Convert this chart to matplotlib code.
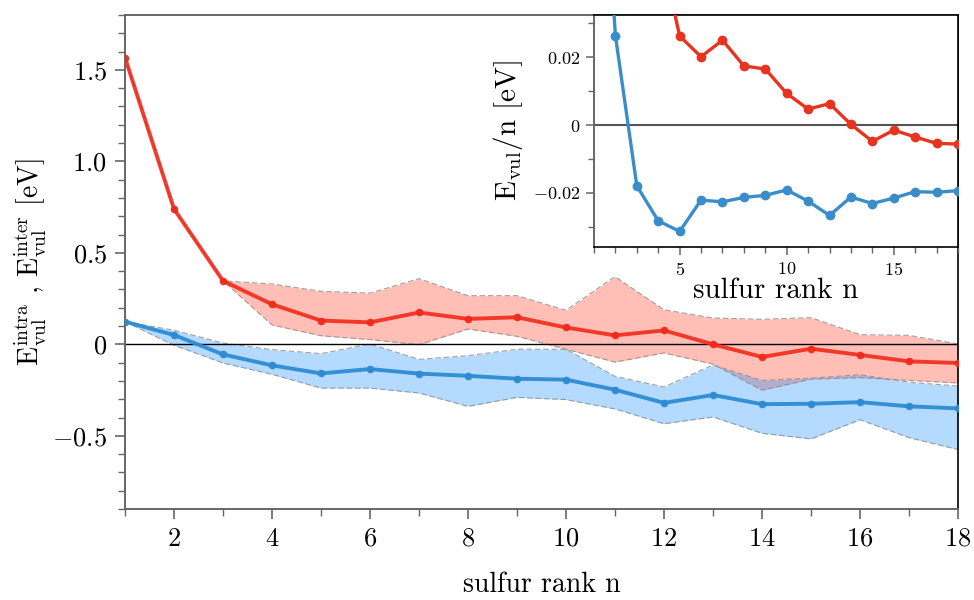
import matplotlib
matplotlib.use("Agg")
import matplotlib.pyplot as plt
from matplotlib.ticker import MultipleLocator, FixedLocator, FuncFormatter
import numpy as np

plt.rcParams['font.family'] = 'serif'
plt.rcParams['font.serif'] = ['cmr10']
plt.rcParams['mathtext.fontset'] = 'cm'
plt.rcParams['axes.unicode_minus'] = True

# ---------------- data ----------------
n = [1, 2, 3, 4, 5, 6, 7, 8, 9, 10, 11, 12, 13, 14, 15, 16, 17, 18]

e_red = [1.567, 0.740, 0.347, 0.219, 0.130, 0.120, 0.174, 0.139, 0.148, 0.092,
         0.049, 0.076, 0.000, -0.069, -0.024, -0.058, -0.093, -0.102]
e_red_upper = [1.567, 0.740, 0.347, 0.330, 0.290, 0.280, 0.359, 0.266, 0.266, 0.186,
               0.370, 0.189, 0.144, 0.137, 0.146, 0.053, 0.049, 0.002]
e_red_lower = [1.567, 0.740, 0.347, 0.106, 0.047, 0.026, -0.002, 0.084, 0.044, -0.027,
               -0.097, -0.047, -0.108, -0.251, -0.190, -0.182, -0.197, -0.211]

e_blue = [0.124, 0.051, -0.055, -0.115, -0.159, -0.135, -0.160, -0.172, -0.188, -0.193,
          -0.248, -0.320, -0.277, -0.327, -0.325, -0.316, -0.339, -0.350]
e_blue_upper = [0.124, 0.077, 0.007, -0.029, -0.051, 0.002, -0.082, -0.062, -0.027, -0.027,
                -0.175, -0.233, -0.113, -0.197, -0.185, -0.166, -0.207, -0.228]
e_blue_lower = [0.124, -0.005, -0.102, -0.164, -0.239, -0.239, -0.266, -0.339, -0.290, -0.302,
                -0.353, -0.434, -0.397, -0.486, -0.517, -0.412, -0.510, -0.575]

inset_red = [1.567, 0.370, 0.1157, 0.0548, 0.0262, 0.0201, 0.0250, 0.0174, 0.0165, 0.0093,
             0.0047, 0.0063, 0.0002, -0.0048, -0.0015, -0.0035, -0.0054, -0.0056]
inset_blue = [0.124, 0.0263, -0.0179, -0.0282, -0.0313, -0.0221, -0.0226, -0.0213, -0.0207, -0.0191,
              -0.0224, -0.0266, -0.0212, -0.0231, -0.0215, -0.0196, -0.0198, -0.0193]

main_yticks = [-0.5, 0.0, 0.5, 1.0, 1.5]
main_xticks = [2, 4, 6, 8, 10, 12, 14, 16, 18]
inset_yticks = [-0.02, 0.0, 0.02]
inset_xticks = [5, 10, 15]

# ---------------- style ----------------
RED = '#f02a1a'
BLUE = '#2d8bd3'
RED_FILL = '#ff2a10'
BLUE_FILL = '#1e90ff'
RED_IN = '#e8331f'
BLUE_IN = '#3a8dc9'
SPINE_GRAY = '#666666'


def fmt_main(v, pos):
    if abs(v) < 1e-9:
        return r'$0$'
    return r'$%.1f$' % v


def fmt_inset(v, pos):
    if abs(v) < 1e-9:
        return r'$0$'
    return r'$%.2f$' % v


fig = plt.figure(figsize=(9.74, 6.0), dpi=100)
ax = fig.add_axes([0.12834, 0.15167, 0.85524, 0.82333])

ax.fill_between(n, e_red_lower, e_red_upper, color=RED_FILL, alpha=0.3, lw=0, zorder=1)
ax.fill_between(n, e_blue_lower, e_blue_upper, color=BLUE_FILL, alpha=0.33, lw=0, zorder=1.1)
for arr in (e_red_upper, e_red_lower, e_blue_upper, e_blue_lower):
    ax.plot(n, arr, ls=(0, (5, 2.5)), color='#8a8a8a', lw=0.8, alpha=0.8, zorder=1.5)
ax.axhline(0, color='black', lw=1.0, zorder=2)
ax.plot(n, e_blue, color=BLUE, lw=2.8, marker='o', ms=4.5, zorder=3, alpha=0.95)
ax.plot(n, e_red, color=RED, lw=2.8, marker='o', ms=4.5, zorder=4, alpha=0.9)

ax.set_xlim(1, 18)
ax.set_ylim(-0.9, 1.8)
ax.xaxis.set_major_locator(FixedLocator(main_xticks))
ax.xaxis.set_minor_locator(MultipleLocator(1))
ax.yaxis.set_major_locator(FixedLocator(main_yticks))
ax.yaxis.set_minor_locator(MultipleLocator(0.1))
ax.yaxis.set_major_formatter(FuncFormatter(fmt_main))
ax.xaxis.set_major_formatter(FuncFormatter(lambda v, p: r'$%d$' % v))
ax.tick_params(axis='both', which='major', direction='out', length=7, width=1.2,
               labelsize=19, color=SPINE_GRAY, pad=6)
ax.tick_params(axis='both', which='minor', direction='out', length=5, width=1.0,
               color=SPINE_GRAY)
ax.tick_params(top=False, right=False, which='both')
for s in ('left', 'bottom', 'top'):
    ax.spines[s].set_color(SPINE_GRAY)
    ax.spines[s].set_linewidth(1.4)
ax.spines['right'].set_color('black')
ax.spines['right'].set_linewidth(1.2)

ax.set_xlabel('sulfur rank n', fontsize=20, labelpad=15)
ax.set_ylabel(r'$\mathrm{E^{intra}_{vul}}$ , $\mathrm{E^{inter}_{vul}}$ [eV]', fontsize=20, labelpad=2)

# ---------------- inset ----------------
ins = fig.add_axes([0.60986, 0.58833, 0.37372, 0.38667])
ins.set_facecolor('white')
ins.axhline(0, color='#555555', lw=1.5, zorder=1)
ins.plot(n, inset_blue, color=BLUE_IN, lw=2.4, marker='o', ms=6, zorder=3)
ins.plot(n, inset_red, color=RED_IN, lw=2.4, marker='o', ms=6, zorder=4)
ins.set_xlim(1, 18)
ins.set_ylim(-0.0359, 0.0324)
ins.xaxis.set_major_locator(FixedLocator(inset_xticks))
ins.xaxis.set_minor_locator(MultipleLocator(1))
ins.yaxis.set_major_locator(FixedLocator(inset_yticks))
ins.yaxis.set_minor_locator(MultipleLocator(0.01))
ins.yaxis.set_major_formatter(FuncFormatter(fmt_inset))
ins.xaxis.set_major_formatter(FuncFormatter(lambda v, p: r'$%d$' % v))
ins.tick_params(axis='both', which='major', direction='out', length=6, width=1.1,
                labelsize=13, color=SPINE_GRAY, pad=4)
ins.tick_params(axis='both', which='minor', direction='out', length=4, width=1.0,
                color=SPINE_GRAY)
ins.spines['left'].set_color(SPINE_GRAY)
ins.spines['left'].set_linewidth(1.4)
for s in ('bottom', 'top', 'right'):
    ins.spines[s].set_color('black')
    ins.spines[s].set_linewidth(1.2)
ins.set_xlabel('sulfur rank n', fontsize=21, labelpad=0)
ins.set_ylabel(r'$\mathrm{E_{vul}/n}$ [eV]', fontsize=21, labelpad=6)

fig.savefig('out.png', dpi=100)
